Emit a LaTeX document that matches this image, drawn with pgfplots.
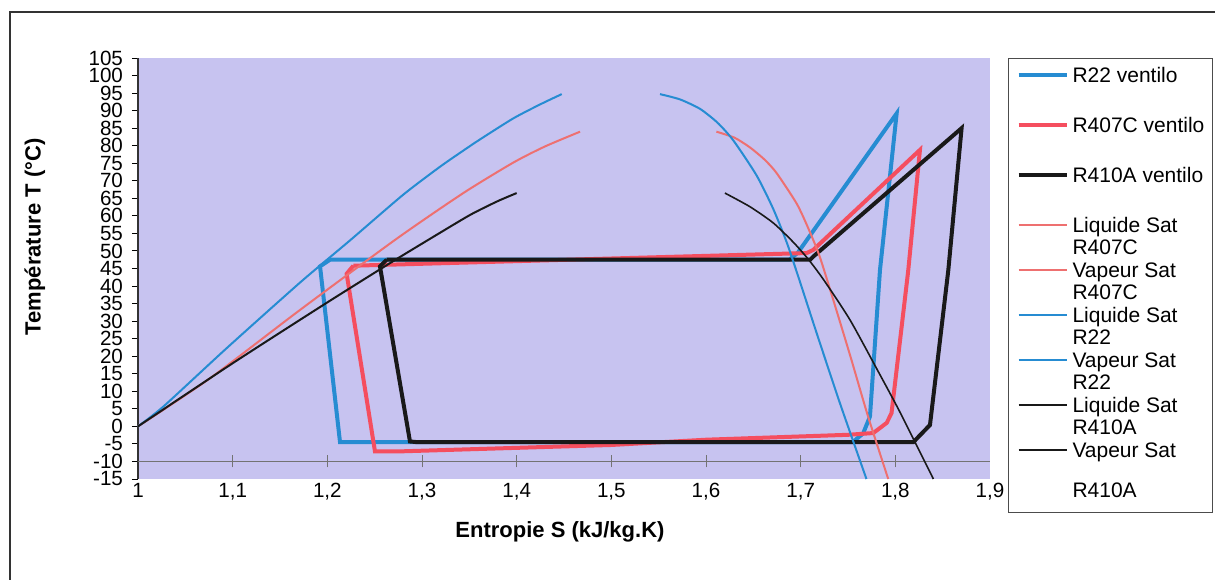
\documentclass[border=0pt]{standalone}
\usepackage{fontspec}
\setmainfont{Liberation Sans}
\usepackage{pgfplots}
\pgfplotsset{compat=1.18}
\definecolor{plotbg}{RGB}{199,195,240}
\definecolor{cblue}{RGB}{38,140,210}
\definecolor{cred}{RGB}{245,78,95}
\definecolor{csalmon}{RGB}{238,112,112}
\definecolor{cblack}{RGB}{25,25,25}
\newcommand{\lent}[1]{\begin{tabular}[t]{@{}l@{}}#1\end{tabular}}
\newcommand{\thickent}[1]{\lent{#1}\rule[-17.1pt]{0pt}{0pt}}
\begin{document}
\begin{tikzpicture}
\useasboundingbox (0pt,0pt) rectangle (607.5pt,290pt);
\draw[black!80, line width=0.6pt] (607.5pt,284pt) -- (5pt,284pt) -- (5pt,0pt);
\begin{axis}[
  at={(69pt,50.5pt)}, anchor=south west,
  scale only axis, width=426pt, height=210.5pt,
  xmin=1, xmax=1.9, ymin=-15, ymax=105,
  clip=false,
  axis background/.style={fill=plotbg},
  axis line style={draw=none},
  xtick={1,1.1,1.2,1.3,1.4,1.5,1.6,1.7,1.8,1.9},
  ytick={-15,-10,...,105},
  tick pos=left, tick align=outside, major tick length=3pt,
  xtick style={draw=none},
  ytick style={black, line width=0.5pt},
  /pgf/number format/assume math mode=true,
  xticklabel style={/pgf/number format/fixed, /pgf/number format/precision=1, /pgf/number format/use comma, /tikz/yshift=4.5pt},
  tick label style={font=\fontsize{10.3}{12}\selectfont},
  yticklabel style={xshift=-1pt, inner ysep=0pt},
  xlabel={Entropie S (kJ/kg.K)},
  ylabel={Température T (°C)},
  every axis x label/.style={at={(axis description cs:0.4953,-0.126)}, anchor=center, font=\fontsize{11}{13}\selectfont\bfseries},
  every axis y label/.style={at={(axis description cs:-0.121,0.575)}, anchor=center, rotate=90, font=\fontsize{11}{13}\selectfont\bfseries},
  legend style={at={(1,1)}, anchor=north west, xshift=9pt, draw=black!70, line width=0.5pt, fill=white,
    inner xsep=4pt, inner ysep=4pt, font=\fontsize{10.5}{11.25}\selectfont,
    cells={anchor=base west}, nodes={inner sep=0pt, text depth={}, text height={}}, column sep=2pt, row sep=0pt},
  legend image code/.code={\draw[#1] (0pt,3.5pt) -- (24pt,3.5pt);},
  no markers,
]
\draw[black!80, line width=0.6pt] (rel axis cs:0,0) -- (rel axis cs:0,1);
\draw[black!55, line width=0.5pt] (axis cs:1,-10) -- (axis cs:1.9,-10);
\pgfplotsinvokeforeach{1.1,1.2,1.3,1.4,1.5,1.6,1.7,1.8}{\draw[black!55, line width=0.5pt] (axis cs:#1,-10) ++(0pt,-3pt) -- ++(0pt,6pt);}

% R22 cycle
\addplot[cblue, line width=2pt] coordinates {
(1.2028,47.5) (1.1923,45.6) (1.2134,-4.5) (1.755,-4.5) (1.766,-2.0) (1.7732,2.8)
(1.7838,44.6) (1.8014,89.2) (1.697,49.5) (1.688,47.5) (1.2028,47.5)};
\addlegendentry{\thickent{R22 ventilo}}
% R407C cycle
\addplot[cred, line width=2pt] coordinates {
(1.2275,45.8) (1.2204,43.5) (1.2503,-7.1) (1.28,-7.1) (1.5,-5.3) (1.6,-3.8) (1.75,-2.4)
(1.7767,-1.9) (1.7909,1.0) (1.796,3.8) (1.8137,44.6) (1.826,78.8) (1.7133,50.3) (1.7063,49.4) (1.2275,45.8)};
\addlegendentry{\thickent{R407C ventilo}}
% R410A cycle
\addplot[cblack, line width=2pt] coordinates {
(1.2627,47.5) (1.2556,45.6) (1.2873,-4.3) (1.295,-4.5) (1.819,-4.5) (1.8366,0.4)
(1.856,44.6) (1.870,85) (1.7133,48.4) (1.71,47.5) (1.2627,47.5)};
\addlegendentry{\thickent{R410A ventilo}}
% Liquide Sat R407C
\addplot[csalmon, line width=1pt, smooth, tension=0.4] coordinates {
(1,0) (1.076,13.7) (1.1712,33.2) (1.2733,53.5) (1.3436,66.5) (1.3965,75.2) (1.43,79.8) (1.467,84)};
\addlegendentry{\lent{Liquide Sat\\R407C}}
% Vapeur Sat R407C
\addplot[csalmon, line width=1pt, smooth, tension=0.4] coordinates {
(1.611,84) (1.63,82.3) (1.6465,79.5) (1.662,76) (1.6746,72.2) (1.6958,63.5) (1.708,56.5)
(1.72,48.5) (1.7345,36) (1.7525,20) (1.771,3) (1.7925,-15)};
\addlegendentry{\lent{Vapeur Sat\\R407C}}
% Liquide Sat R22
\addplot[cblue, line width=1pt, smooth, tension=0.4] coordinates {
(1,0) (1.027,5.7) (1.0937,22.3) (1.1712,41) (1.2239,53) (1.28,66) (1.319,74) (1.3436,78.6)
(1.3613,81.8) (1.3965,87.8) (1.425,91.8) (1.4476,94.7)};
\addlegendentry{\lent{Liquide Sat\\R22}}
% Vapeur Sat R22
\addplot[cblue, line width=1pt, smooth, tension=0.4] coordinates {
(1.5514,94.7) (1.5725,93.2) (1.5937,90.5) (1.612,86.6) (1.6289,81.5) (1.6535,71.5) (1.671,62)
(1.6852,52.5) (1.6965,43.5) (1.717,26.5) (1.7415,6.6) (1.7695,-15)};
\addlegendentry{\lent{Vapeur Sat\\R22}}
% Liquide Sat R410A
\addplot[cblack, line width=1pt, smooth, tension=0.4] coordinates {
(1,0) (1.1,18) (1.1957,34.6) (1.266,46.5) (1.3087,53.5) (1.351,60.3) (1.38,64.2) (1.4,66.5)};
\addlegendentry{\lent{Liquide Sat\\R410A}}
% Vapeur Sat R410A
\addplot[cblack, line width=0.8pt, smooth, tension=0.4] coordinates {
(1.62,66.5) (1.6465,62.6) (1.671,58) (1.6922,52.5) (1.7085,47.5) (1.725,41.5) (1.752,30.4)
(1.78,16.6) (1.805,4) (1.8402,-15)};
\addlegendentry{\lent{Vapeur Sat\\[9pt]R410A}\rule[-7pt]{0pt}{0pt}}
\end{axis}
\end{tikzpicture}
\end{document}
